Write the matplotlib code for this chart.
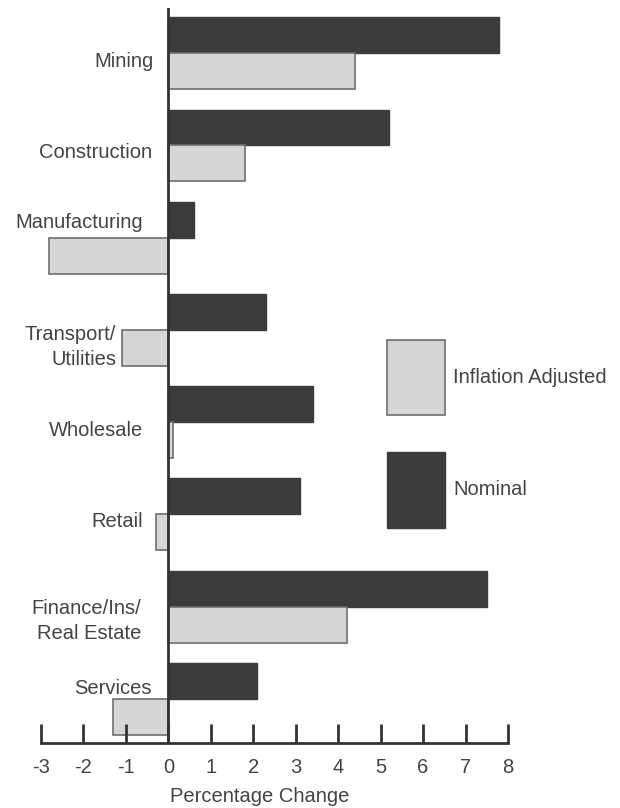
import matplotlib
matplotlib.use('Agg')
import matplotlib.pyplot as plt
import numpy as np

plt.rcParams['font.family'] = ['Liberation Sans', 'DejaVu Sans']

sectors = ['Mining', 'Construction', 'Manufacturing', 'Transport/\nUtilities',
           'Wholesale', 'Retail', 'Finance/Ins/\nReal Estate', 'Services']
nominal = [7.8, 5.2, 0.6, 2.3, 3.4, 3.1, 7.5, 2.1]
inflation_adj = [4.4, 1.8, -2.8, -1.1, 0.1, -0.3, 4.2, -1.3]
xticks = list(range(-3, 9))

# label placement tweaks (data units), to sit like the original
lab_dy = [0.09, 0.08, -0.17, 0.19, 0.09, 0.08, 0.16, -0.11]
lab_x = [-0.35, -0.38, -0.59, -1.23, -0.59, -0.59, -0.64, -0.40]

dark = '#3b3b3b'
light = '#d6d6d6'
txt = '#444444'
fs = 14.5

fig = plt.figure(figsize=(6.2, 8.08), dpi=100)
ax = fig.add_axes([0.0661, 0.0804, 0.7532, 0.9096])

y = np.arange(len(sectors))
h = 0.39
ax.barh(y - h / 2, nominal, height=h, color=dark, edgecolor=dark, linewidth=1,
        label='Nominal')
ax.barh(y + h / 2, inflation_adj, height=h, color=light, edgecolor='#6e6e6e',
        linewidth=1.2, label='Inflation Adjusted')

ax.set_xlim(-3, 8)
ax.set_ylim(7.48, -0.49)
ax.axvline(0, color='#333333', linewidth=2, zorder=5)

for i, s in enumerate(sectors):
    ax.text(lab_x[i], i + lab_dy[i], s, ha='right', va='center',
            multialignment='right', fontsize=fs, color=txt, linespacing=1.4)

ax.set_yticks([])
ax.set_xticks(xticks)
ax.set_xticklabels([str(t) for t in xticks], fontsize=fs, color=txt)
ax.tick_params(axis='x', direction='in', length=14, width=2, color='#333333', pad=11)
for sp in ['left', 'right', 'top']:
    ax.spines[sp].set_visible(False)
ax.spines['bottom'].set_linewidth(2)
ax.spines['bottom'].set_color('#333333')

ax.set_xlabel('Percentage Change', fontsize=fs, color=txt)
ax.xaxis.set_label_coords(0.469, -0.06)

handles, labels = ax.get_legend_handles_labels()
leg = ax.legend(handles[::-1], labels[::-1], frameon=False, fontsize=fs,
                handlelength=2.9, handleheight=5.36, labelspacing=1.84,
                handletextpad=0.4, borderpad=0, loc='upper left',
                bbox_to_anchor=(0.741, 0.548), borderaxespad=0)
for t in leg.get_texts():
    t.set_color(txt)

fig.savefig('out.png', dpi=100)
